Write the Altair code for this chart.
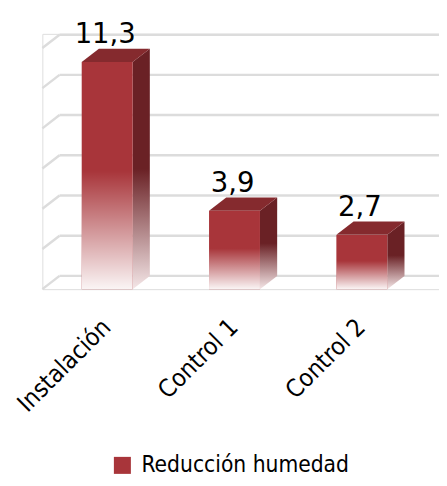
import altair as alt
import pandas as pd

# ---- data ----
categories = ["Instalación", "Control 1", "Control 2"]
values = [11.3, 3.9, 2.7]
series_name = "Reducción humedad"
grid_levels = [0, 2, 4, 6, 8, 10, 12]

# ---- layout / style constants ----
W, H = 404, 260
XMIN, XMAX = -0.509, 2.606
YMAX = 12.7
HW = 0.2      # half bar width (x units)
DX = 0.135    # depth offset x (x units)
DY = 0.66     # depth offset y (y units)

FRONT = "#A8353A"
TOP = "#852A2E"
SIDE = "#6A2125"
GRID = "#DCDCDC"
NARROW = "DejaVu Sans Condensed"

bars = pd.DataFrame({
    "cat": categories,
    "val": values,
    "idx": list(range(len(categories))),
    "serie": [series_name] * len(categories),
})
bars["x0"] = bars["idx"] - HW
bars["x1"] = bars["idx"] + HW
bars["zero"] = 0.0

side_rows, top_rows = [], []
for i, v in zip(bars["idx"], bars["val"]):
    side_rows.append({"idx": i, "x": i + HW, "y": v, "y2": 0.0})
    side_rows.append({"idx": i, "x": i + HW + DX, "y": v + DY, "y2": DY})
    top_rows.append({"idx": i, "y": v, "x": i - HW, "x2": i + HW})
    top_rows.append({"idx": i, "y": v + DY, "x": i - HW + DX, "x2": i + HW + DX})
side = pd.DataFrame(side_rows)
top = pd.DataFrame(top_rows)

grid = pd.DataFrame({"level": grid_levels})
grid["yb"] = grid["level"] + DY
grid["xf"] = XMIN
grid["xs"] = XMIN + DX
grid["xe"] = XMAX

xs = alt.Scale(domain=[XMIN, XMAX], nice=False, zero=False)
ys = alt.Scale(domain=[0, YMAX], nice=False, zero=False)

gridlines = alt.Chart(grid).mark_rule(color=GRID, strokeWidth=2.5).encode(
    x=alt.X("xs:Q", scale=xs, axis=None),
    x2="xe:Q",
    y=alt.Y("yb:Q", scale=ys, axis=None),
)
diag = alt.Chart(grid).mark_rule(color=GRID, strokeWidth=2.5).encode(
    x=alt.X("xf:Q", scale=xs, axis=None),
    x2="xs:Q",
    y=alt.Y("level:Q", scale=ys, axis=None),
    y2="yb:Q",
)

side_grad = alt.Gradient(
    gradient="linear",
    stops=[
        alt.GradientStop(color=SIDE, offset=0),
        alt.GradientStop(color=SIDE, offset=0.5),
        alt.GradientStop(color="#F4E6E7", offset=1),
    ],
    x1=0, x2=0, y1=0, y2=1,
)
side_faces = alt.Chart(side).mark_area(color=side_grad).encode(
    x=alt.X("x:Q", scale=xs, axis=None),
    y=alt.Y("y:Q", scale=ys, axis=None, stack=False),
    y2="y2:Q",
    detail="idx:N",
)
top_faces = alt.Chart(top).mark_area(color=TOP, orient="horizontal").encode(
    y=alt.Y("y:Q", scale=ys, axis=None, stack=False),
    x=alt.X("x:Q", scale=xs, axis=None),
    x2="x2:Q",
    detail="idx:N",
)
front = alt.Chart(bars).mark_bar().encode(
    x=alt.X("x0:Q", scale=xs, axis=None),
    x2="x1:Q",
    y=alt.Y("val:Q", scale=ys, axis=None),
    y2="zero:Q",
    color=alt.Color(
        "serie:N",
        scale=alt.Scale(range=[FRONT]),
        legend=alt.Legend(
            title=None, orient="none", legendX=70, legendY=428,
            symbolType="square", symbolSize=300, symbolStrokeWidth=0,
            labelFont=NARROW, labelFontSize=23, labelColor="#000000",
            labelOffset=8, labelLimit=400,
        ),
    ),
)
fade = alt.Gradient(
    gradient="linear",
    stops=[
        alt.GradientStop(color="rgba(255,255,255,0)", offset=0),
        alt.GradientStop(color="rgba(255,255,255,0)", offset=0.48),
        alt.GradientStop(color="rgba(255,255,255,0.95)", offset=1),
    ],
    x1=0, x2=0, y1=0, y2=1,
)
front_fade = alt.Chart(bars).mark_bar(color=fade).encode(
    x=alt.X("x0:Q", scale=xs, axis=None),
    x2="x1:Q",
    y=alt.Y("val:Q", scale=ys, axis=None),
    y2="zero:Q",
)
value_labels = alt.Chart(bars).transform_calculate(
    lab="replace(format(datum.val, '.1f'), '.', ',')"
).mark_text(
    font="DejaVu Sans", fontSize=28, color="#000000", baseline="alphabetic",
    align="center", dy=-19, dx=-2,
).encode(
    x=alt.X("idx:Q", scale=xs, axis=None),
    y=alt.Y("val:Q", scale=ys, axis=None),
    text="lab:N",
)
cat_labels = alt.Chart(bars).mark_text(
    font=NARROW, fontSize=25, color="#000000", angle=315,
    align="right", baseline="middle", dx=-1,
).encode(
    x=alt.X("idx:Q", scale=xs, axis=None),
    y=alt.value(H + 34),
    text="cat:N",
)

chart = alt.layer(
    gridlines, diag, side_faces, top_faces, front, front_fade, value_labels, cat_labels
).properties(
    width=W, height=H,
    padding={"left": 35, "top": 22, "right": 0, "bottom": 188},
    autosize=alt.AutoSizeParams(type="none"),
).configure_view(strokeWidth=0).configure(background="#FFFFFF")

chart.save("out.html", embed_options={"renderer": "svg", "actions": False})
